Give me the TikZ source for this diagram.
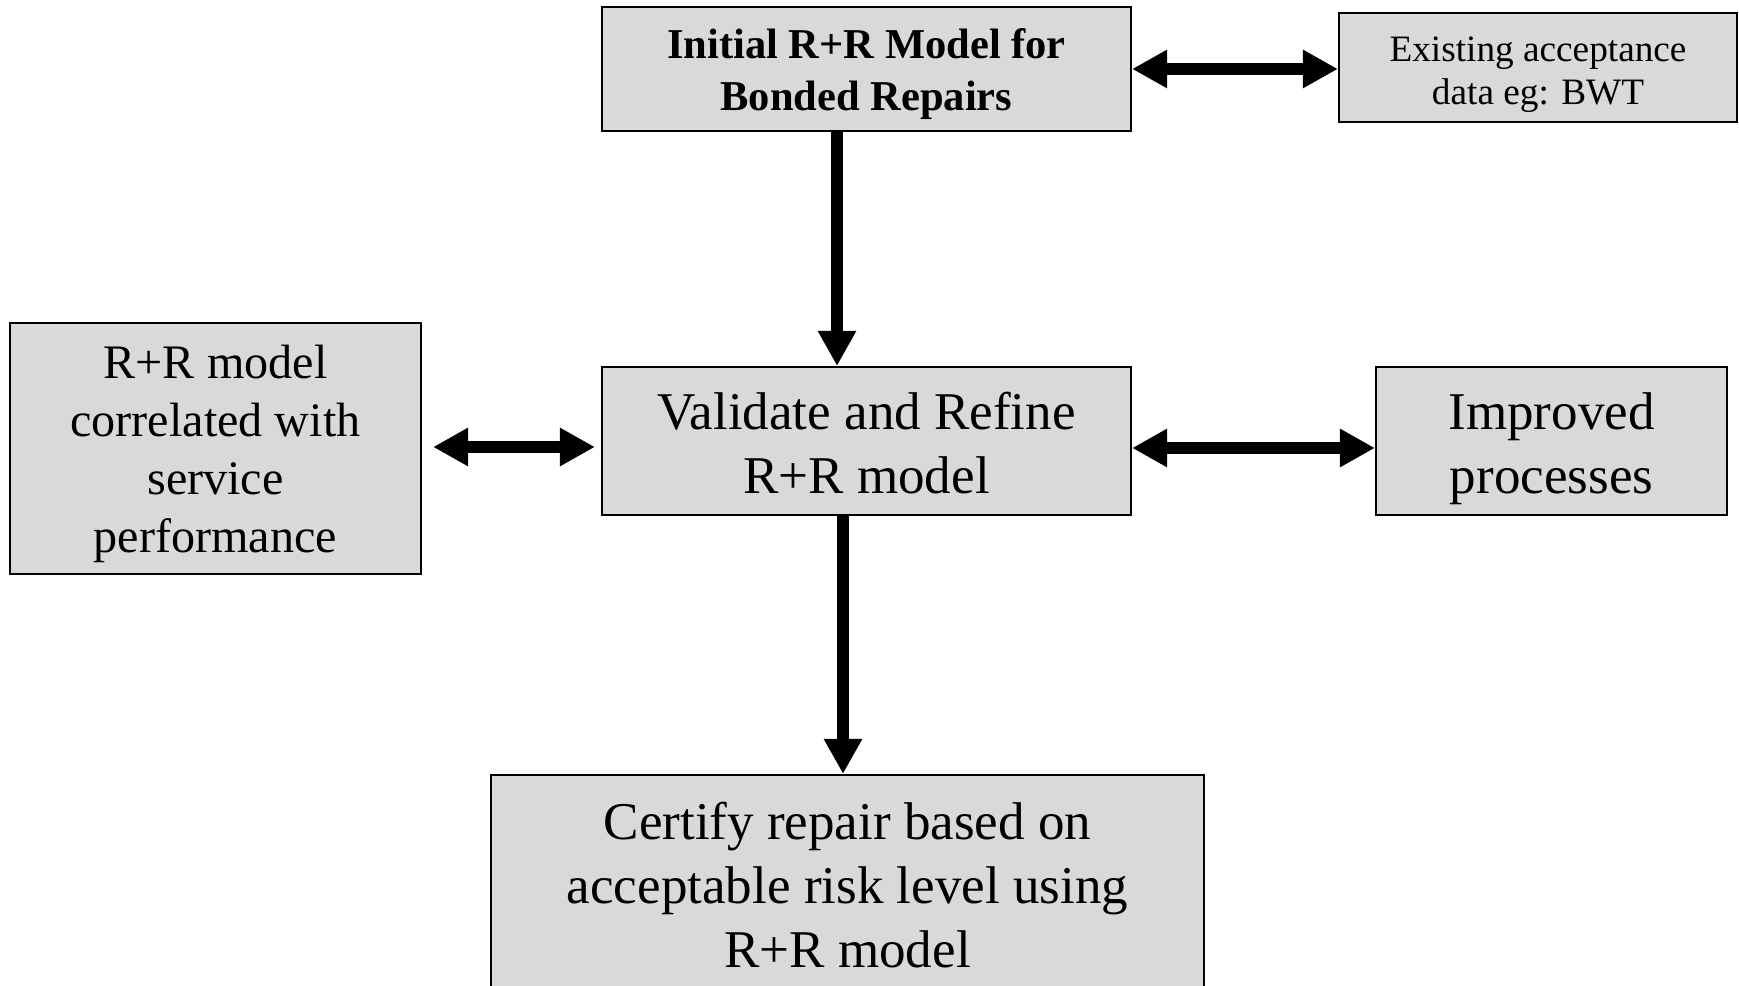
\documentclass[tikz,border=0pt]{standalone}
\usepackage{fontspec}
\setmainfont{Liberation Serif}
\usetikzlibrary{arrows.meta}
\def\padtop#1{\rule{0pt}{#1}}
\tikzset{
	box/.style={draw=black, line width=0.6pt, fill=black!15, align=center, inner sep=0pt},
	arr/.style={line width=1.2mm, >={Triangle[length=3.5mm, width=3.6mm]}}
}

\begin{document}
\begin{tikzpicture}
			%%%%% START %%%%%
			
			\useasboundingbox (0, 0) rectangle (17.39, 9.85);
			\clip (0, 0) rectangle (17.39, 9.85);
			
			\node[box, minimum width=5.29cm, minimum height=1.24cm, font=\bfseries\fontsize{12.1}{14.8}\selectfont] (init) at (8.665, 9.16) {\padtop{11.3pt}Initial R+R Model for\\Bonded Repairs};
			\node[box, minimum width=3.98cm, minimum height=1.09cm, font=\fontsize{10.6}{12.2}\selectfont] (accept) at (15.38, 9.175) {\padtop{11pt}Existing acceptance\\data eg: BWT};
			
			\node[box, minimum width=4.11cm, minimum height=2.51cm, font=\fontsize{13.7}{16.5}\selectfont] (corr) at (2.155, 5.365) {\padtop{12.5pt}R+R model\\correlated with\\service\\performance};
			\node[box, minimum width=5.29cm, minimum height=1.48cm, font=\fontsize{15.1}{18.2}\selectfont] (valid) at (8.665, 5.44) {\padtop{11.6pt}Validate and Refine\\R+R model};
			\node[box, minimum width=3.51cm, minimum height=1.48cm, font=\fontsize{15.1}{18.2}\selectfont] (improv) at (15.515, 5.44) {\padtop{14.7pt}Improved\\processes};
			
			\node[box, minimum width=7.13cm, minimum height=2.2cm, font=\fontsize{15.1}{18.2}\selectfont] (certify) at (8.475, 1.0) {Certify repair based on\\acceptable risk level using\\R+R model};
			
			\draw[arr, <->] (init.east) -- (init.east -| accept.west);
			\draw[arr, ->] ([xshift=-2.95mm]init.south) -- ([xshift=-2.95mm]valid.north);
			\draw[arr, <->, shorten <=1.1mm, shorten >=0.6mm] ([yshift=-0.6mm]valid.west -| corr.east) -- ([yshift=-0.6mm]valid.west);
			\draw[arr, <->] ([yshift=-0.7mm]valid.east) -- ([yshift=-0.7mm]valid.east -| improv.west);
			\draw[arr, ->] ([xshift=-2.35mm]valid.south) -- ([xshift=-2.35mm]valid.south |- certify.north);
			
			%%%%% END %%%%%
		\end{tikzpicture}
\end{document}
